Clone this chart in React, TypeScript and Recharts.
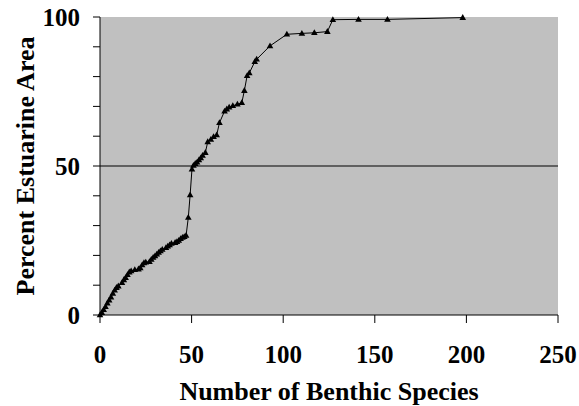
import { LineChart, Line, XAxis, YAxis, CartesianGrid, ReferenceLine, Label } from "recharts";

// cumulative % of estuarine area vs. number of benthic species
const speciesCounts = [
  0, 1, 2, 3, 4, 5, 6, 7, 8, 9, 10, 12, 13, 14, 15, 16, 17, 19, 21, 22,
  23, 24, 25, 27, 28, 29, 30, 31, 32, 33, 34, 36, 37, 38, 39, 41, 42, 43, 44, 45,
  46, 47, 48.2, 49.2, 50.2, 51, 52, 53, 54, 55, 56, 57.5, 58.8, 60.5, 62, 63.7, 65.2, 68, 69.2, 70.5,
  72.5, 75, 77.4, 78.8, 80.3, 81.5, 84.5, 85.5, 92.8, 102, 110.2, 117, 124.1, 127.1, 141.1, 156.9, 198,
];
const percentArea = [
  0, 0.8, 1.8, 2.8, 4, 5, 6, 7.2, 8.3, 9.2, 9.7, 10.8, 11.8, 12.5, 13.5, 14.4, 14.8, 15.2, 15.4, 15.8,
  16.8, 17.5, 17.7, 17.9, 18.6, 19.3, 19.8, 20.4, 21, 21.5, 22, 22.6, 23.1, 23.5, 24, 24.3, 24.6, 25, 25.6, 26,
  26.3, 26.7, 32.7, 40.3, 48.9, 50.2, 50.8, 51.3, 52, 52.7, 53.5, 54.5, 58.1, 58.9, 59.8, 60.4, 64.5, 68.4, 69.1, 69.7,
  70.2, 70.7, 71.2, 75.3, 80.3, 81.2, 85, 85.8, 90.3, 94.2, 94.5, 94.7, 95.1, 99.1, 99.2, 99.2, 99.8,
];

const xTicks = [0, 50, 100, 150, 200, 250];
const yTicks = [0, 10, 20, 30, 40, 50, 60, 70, 80, 90, 100];

const data = speciesCounts.map((n, i) => ({ species: n, area: percentArea[i] }));

const FONT = '"Liberation Serif", "Times New Roman", serif';

const XTick = ({ x, y, payload }: any) => (
  <text x={x} y={y + 40} textAnchor="middle" fontFamily={FONT} fontWeight="bold" fontSize={25} fill="#000">
    {payload.value}
  </text>
);

const YTick = ({ x, y, payload }: any) => {
  if (payload.value % 50 !== 0) return <g />;
  return (
    <text x={x} y={y + 8.5} textAnchor="end" fontFamily={FONT} fontWeight="bold" fontSize={25} fill="#000">
      {payload.value}
    </text>
  );
};

const Triangle = ({ cx, cy }: any) => {
  if (cx == null || cy == null) return null;
  return <path d={`M${cx},${cy - 3.5}L${cx + 3.3},${cy + 2.3}L${cx - 3.3},${cy + 2.3}Z`} fill="#000" />;
};

export default function App() {
  return (
    <div style={{ position: "absolute", left: 0, top: 0, width: 579, height: 406, background: "#fff" }}>
      <LineChart width={579} height={406} data={data} margin={{ top: 17, right: 21, bottom: 0, left: 0 }}>
        <CartesianGrid fill="#c0c0c0" horizontal={false} vertical={false} />
        <XAxis
          xAxisId="top"
          orientation="top"
          type="number"
          dataKey="species"
          domain={[0, 250]}
          height={0}
          tick={false}
          tickLine={false}
          stroke="#808080"
        />
        <YAxis
          yAxisId="right"
          orientation="right"
          type="number"
          domain={[0, 100]}
          width={0}
          tick={false}
          tickLine={false}
          stroke="#808080"
        />
        <XAxis
          type="number"
          dataKey="species"
          domain={[0, 250]}
          ticks={xTicks}
          interval={0}
          height={91}
          tickSize={8}
          tickMargin={0}
          stroke="#000"
          tick={<XTick />}
        >
          <Label
            content={({ viewBox }: any) => (
              <text
                x={viewBox.x + viewBox.width / 2}
                y={400}
                textAnchor="middle"
                fontFamily={FONT}
                fontWeight="bold"
                fontSize={26}
                fill="#000"
              >
                Number of Benthic Species
              </text>
            )}
          />
        </XAxis>
        <YAxis
          type="number"
          domain={[0, 100]}
          ticks={yTicks}
          interval={0}
          width={100}
          tickSize={7}
          tickMargin={13}
          stroke="#000"
          tick={<YTick />}
        >
          <Label
            content={({ viewBox }: any) => {
              const cy = viewBox.y + viewBox.height / 2;
              return (
                <text
                  x={25}
                  y={cy}
                  transform={`rotate(-90, 25, ${cy})`}
                  textAnchor="middle"
                  dominantBaseline="central"
                  fontFamily={FONT}
                  fontWeight="bold"
                  fontSize={26}
                  fill="#000"
                >
                  Percent Estuarine Area
                </text>
              );
            }}
          />
        </YAxis>
        <ReferenceLine y={50} stroke="#000" strokeWidth={1} />
        <Line
          type="linear"
          dataKey="area"
          stroke="#000"
          strokeWidth={1}
          dot={(p: any) => <Triangle key={p.index} {...p} />}
          activeDot={false}
          isAnimationActive={false}
        />
      </LineChart>
    </div>
  );
}
